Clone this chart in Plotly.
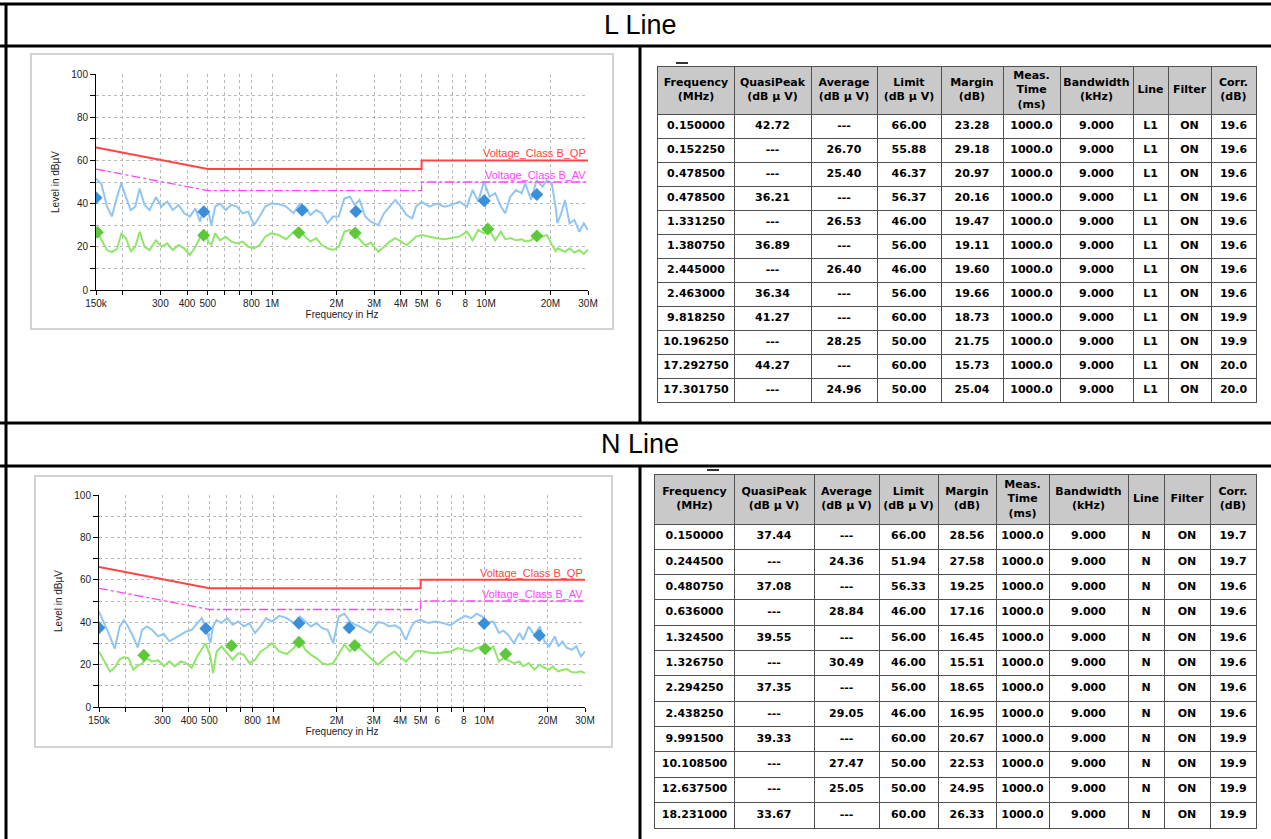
import math
import plotly.graph_objects as go

W, H = 1271, 839

# ---------------- scan data (frequency in MHz, level in dBuV) ----------------
SCAN_F = [0.150, 0.159, 0.169, 0.178, 0.188, 0.197, 0.207, 0.218, 0.229, 0.240,
          0.253, 0.267, 0.286, 0.304, 0.323, 0.343, 0.365, 0.388, 0.412, 0.438,
          0.460, 0.479, 0.505, 0.520, 0.541, 0.570, 0.606, 0.644, 0.685, 0.728,
          0.773, 0.822, 0.874, 0.928, 0.987, 1.070, 1.161, 1.259, 1.338, 1.422,
          1.511, 1.606, 1.707, 1.814, 1.927, 2.048, 2.177, 2.313, 2.429, 2.562,
          2.722, 2.893, 3.138, 3.335, 3.544, 3.767, 4.003, 4.254, 4.521, 4.708,
          5.004, 5.428, 5.890, 6.386, 6.924, 7.510, 8.146, 8.657, 9.201, 9.779,
          10.39, 11.04, 11.74, 12.32, 12.99, 13.81, 14.67, 15.28, 16.24, 17.26,
          18.35, 19.27, 20.31, 21.15, 21.58, 22.48, 23.41, 24.58, 25.91, 27.31,
          28.67, 30.0]

L_QP_SCAN = [51.7, 49, 38.6, 34, 43, 49.4, 43, 37, 38.6, 47,
             39.4, 37, 43, 38.6, 41, 37, 39.4, 35.5, 34, 37.8,
             31.6, 38.6, 35.5, 30, 38.6, 40, 37, 39.4, 38.6, 35.5,
             36.3, 30, 34, 38.6, 40, 39.8, 38.6, 35.5, 39.8, 38.6,
             34.7, 37, 35.5, 30.9, 34, 34, 42.4, 43.2, 39.4, 41.7,
             34, 31.6, 30, 35.5, 38.6, 41.7, 38.6, 34.7, 33.2, 38.6,
             40.9, 38.6, 40, 38.6, 39.4, 40.9, 38.6, 46.3, 40.9, 50.2,
             43.2, 44.8, 38.6, 35.5, 43.2, 46.3, 44.8, 49.4, 41.7, 50.9,
             47.8, 50.9, 49.4, 38.6, 30.9, 35.5, 41.7, 30.9, 32.4, 27,
             30.9, 27.8]

L_AV_SCAN = [27.8, 23, 18.5, 17.5, 19, 26, 24, 18, 20, 27,
             20, 18.5, 23, 20, 21.6, 18.5, 20.8, 19.3, 16.2, 20,
             24.7, 27.8, 22, 21, 26.2, 23, 24.7, 22.4, 21.6, 22.4,
             20, 19.3, 20.8, 24.7, 26.2, 25.5, 23.5, 27, 28.5, 24.7,
             22.4, 24, 20.8, 19.3, 18.5, 20, 27, 27.8, 26.2, 23.5,
             20.5, 22, 17.7, 20, 22.4, 24, 22.4, 20.8, 23, 24.7,
             25.5, 24.7, 24, 23.5, 24, 24.7, 27, 23, 27.8, 26.2,
             27.8, 23, 27, 23.5, 24, 23, 23.5, 22.5, 23, 25.5,
             24.7, 25.5, 21, 18, 19.3, 18.5, 17.7, 19.3, 17.3, 18.5,
             16.7, 18.8]

N_QP_SCAN = [45, 39.6, 33.3, 27.5, 38, 41, 37.5, 33, 28, 36.4,
             38, 36.4, 33.3, 34.5, 31, 32.5, 34, 35.6, 36.4, 39.6,
             41.9, 38, 30.1, 38, 41, 39.6, 41.9, 38.8, 40.3, 38,
             39.6, 34.9, 38, 41.9, 40.3, 43, 41.9, 39.6, 42.7, 40.3,
             38, 39.6, 37.2, 36.4, 30.1, 42.7, 44, 40.3, 39, 38,
             36.4, 35, 40, 39.6, 38, 38.5, 37, 31.7, 38, 40.3,
             41.1, 39.6, 40.3, 39.6, 38.5, 41.1, 43, 41.9, 44, 42.7,
             40, 40.3, 35, 36, 34, 30.1, 34.9, 31.7, 38, 34,
             38, 31, 28.6, 32, 33.3, 28.6, 30.9, 28, 27, 28.6,
             23.9, 26.2]

N_AV_SCAN = [26.2, 21.5, 16.8, 18.5, 22.5, 23.5, 23, 17.6, 19.5, 20.5,
             23, 21.5, 22, 19.2, 21.5, 19.2, 21.5, 20.7, 18.4, 23.9,
             27.5, 30.1, 23.9, 16, 26.2, 28.6, 25.4, 22.3, 25.4, 24.6,
             20.7, 22.3, 26.2, 27.8, 30.1, 26.2, 25, 28, 31.7, 27,
             24.6, 23.1, 20.7, 20, 20.7, 25, 29.5, 26.2, 28.6, 28,
             25.4, 23.1, 20, 22.3, 24.6, 26.2, 23.5, 21.5, 23.9, 26.2,
             26.5, 25.7, 25.4, 25.7, 26.2, 27.8, 27, 26.2, 27.8, 28.6,
             26.2, 28.6, 21.5, 23.1, 22, 20.7, 21.5, 19.2, 20.7, 17.6,
             20, 18.5, 17.6, 19.2, 18, 16.8, 17.5, 17.9, 16.5, 16.3,
             16.8, 16]

# limit lines (class B)
LIM_F = [0.15, 0.5, 5, 5, 30]
QP_LIM = [66, 56, 56, 60, 60]
AV_LIM = [56, 46, 46, 50, 50]

# ---------------- final result tables ----------------
L_FREQ = ["0.150000", "0.152250", "0.478500", "0.478500", "1.331250", "1.380750",
          "2.445000", "2.463000", "9.818250", "10.196250", "17.292750", "17.301750"]
L_QP = ["42.72", "---", "---", "36.21", "---", "36.89", "---", "36.34", "41.27", "---", "44.27", "---"]
L_AVG = ["---", "26.70", "25.40", "---", "26.53", "---", "26.40", "---", "---", "28.25", "---", "24.96"]
L_LIMIT = ["66.00", "55.88", "46.37", "56.37", "46.00", "56.00", "46.00", "56.00", "60.00", "50.00", "60.00", "50.00"]
L_MARGIN = ["23.28", "29.18", "20.97", "20.16", "19.47", "19.11", "19.60", "19.66", "18.73", "21.75", "15.73", "25.04"]
L_CORR = ["19.6", "19.6", "19.6", "19.6", "19.6", "19.6", "19.6", "19.6", "19.9", "19.9", "20.0", "20.0"]

N_FREQ = ["0.150000", "0.244500", "0.480750", "0.636000", "1.324500", "1.326750",
          "2.294250", "2.438250", "9.991500", "10.108500", "12.637500", "18.231000"]
N_QP = ["37.44", "---", "37.08", "---", "39.55", "---", "37.35", "---", "39.33", "---", "---", "33.67"]
N_AVG = ["---", "24.36", "---", "28.84", "---", "30.49", "---", "29.05", "---", "27.47", "25.05", "---"]
N_LIMIT = ["66.00", "51.94", "56.33", "46.00", "56.00", "46.00", "56.00", "46.00", "60.00", "50.00", "50.00", "60.00"]
N_MARGIN = ["28.56", "27.58", "19.25", "17.16", "16.45", "15.51", "18.65", "16.95", "20.67", "22.53", "24.95", "26.33"]
N_CORR = ["19.7", "19.7", "19.6", "19.6", "19.6", "19.6", "19.6", "19.6", "19.9", "19.9", "19.9", "19.9"]

MEAS_TIME = "1000.0"
BANDWIDTH = "9.000"
FILTER = "ON"

HEADERS = ["Frequency<br>(MHz)", "QuasiPeak<br>(dB \u00b5 V)", "Average<br>(dB \u00b5 V)",
           "Limit<br>(dB \u00b5 V)", "Margin<br>(dB)", "Meas.<br>Time<br>(ms)",
           "Bandwidth<br>(kHz)", "Line", "Filter", "Corr.<br>(dB)"]

X_TICKS = [0.15, 0.2, 0.3, 0.4, 0.5, 0.6, 0.7, 0.8, 1, 2, 3, 4, 5, 6, 7, 8, 10, 20, 30]
X_TICKTEXT = ["150k", "", "300", "400", "500", "", "", "800", "1M", "2M", "3M", "4M",
              "5M", "6", "", "8", "10M", "20M", "30M"]
Y_TICKS = [0, 10, 20, 30, 40, 50, 60, 70, 80, 90, 100]
Y_TICKTEXT = ["0", "", "20", "", "40", "", "60", "", "80", "", "100"]


def px(x):
    return x / W


def py(y):
    return 1 - y / H


BLUE_SCAN = "#92c6f2"
GREEN_SCAN = "#8fe66a"
BLUE_MK = "#3a8fdb"
GREEN_MK = "#5cc83a"
RED = "#ff4444"
MAGENTA = "#ff44ff"
CHART_FONT = "Liberation Sans, Arial, sans-serif"
TABLE_FONT = "DejaVu Sans, Verdana, sans-serif"
GRID_TABLE = "#505050"

fig = go.Figure()
shapes = []


def picked(freqs, vals):
    xs = [float(f) for f, v in zip(freqs, vals) if v != "---"]
    ys = [float(v) for v in vals if v != "---"]
    return xs, ys


def add_chart(xa, ya, qp_scan, av_scan, freqs, qp, avg):
    fig.add_trace(go.Scatter(x=SCAN_F, y=qp_scan, mode="lines", xaxis=xa, yaxis=ya,
                             line=dict(color=BLUE_SCAN, width=2), hoverinfo="skip"))
    fig.add_trace(go.Scatter(x=SCAN_F, y=av_scan, mode="lines", xaxis=xa, yaxis=ya,
                             line=dict(color=GREEN_SCAN, width=2), hoverinfo="skip"))
    fig.add_trace(go.Scatter(x=LIM_F, y=QP_LIM, mode="lines", xaxis=xa, yaxis=ya,
                             line=dict(color=RED, width=2)))
    fig.add_trace(go.Scatter(x=LIM_F, y=AV_LIM, mode="lines", xaxis=xa, yaxis=ya,
                             line=dict(color=MAGENTA, width=1.3, dash="dashdot")))
    qx, qy = picked(freqs, qp)
    ax_, ay_ = picked(freqs, avg)
    fig.add_trace(go.Scatter(x=qx, y=qy, mode="markers", xaxis=xa, yaxis=ya,
                             marker=dict(symbol="diamond", size=10, color=BLUE_MK)))
    fig.add_trace(go.Scatter(x=ax_, y=ay_, mode="markers", xaxis=xa, yaxis=ya,
                             marker=dict(symbol="diamond", size=10, color=GREEN_MK)))


add_chart("x", "y", L_QP_SCAN, L_AV_SCAN, L_FREQ, L_QP, L_AVG)
add_chart("x2", "y2", N_QP_SCAN, N_AV_SCAN, N_FREQ, N_QP, N_AVG)


def add_table(xa, ya, cols, widths, head_h, row_h):
    bounds = [0]
    for w in widths:
        bounds.append(bounds[-1] + w)
    centers = [(bounds[i] + bounds[i + 1]) / 2 for i in range(len(widths))]
    n = len(cols[0])
    row_bounds = [0, head_h] + [head_h + row_h * (i + 1) for i in range(n)]
    tf = dict(family=TABLE_FONT, size=11, color="black")
    fig.add_trace(go.Scatter(x=centers, y=[head_h / 2] * len(centers),
                             text=["<b>%s</b>" % h for h in HEADERS], mode="text",
                             textposition="middle center", textfont=tf,
                             xaxis=xa, yaxis=ya, hoverinfo="skip"))
    xs, ys, ts = [], [], []
    for j, col in enumerate(cols):
        for i, v in enumerate(col):
            xs.append(centers[j])
            ys.append(head_h + row_h * (i + 0.5))
            ts.append("<b>%s</b>" % v)
    fig.add_trace(go.Scatter(x=xs, y=ys, text=ts, mode="text", textposition="middle center",
                             textfont=tf, xaxis=xa, yaxis=ya, hoverinfo="skip"))
    shapes.append(dict(type="rect", xref=xa, yref=ya, x0=0, x1=bounds[-1], y0=0, y1=head_h,
                       fillcolor="#c9c9c9", line=dict(width=0), layer="below"))
    axx = dict(range=[0, bounds[-1]], tickmode="array", tickvals=bounds, showgrid=True,
               gridcolor=GRID_TABLE, gridwidth=1, showticklabels=False, ticks="",
               zeroline=False, showline=True, mirror=True, linecolor=GRID_TABLE, linewidth=1,
               automargin=False)
    axy = dict(range=[row_bounds[-1], 0], tickmode="array", tickvals=row_bounds, showgrid=True,
               gridcolor=GRID_TABLE, gridwidth=1, showticklabels=False, ticks="",
               zeroline=False, showline=True, mirror=True, linecolor=GRID_TABLE, linewidth=1,
               automargin=False)
    return axx, axy


L_COLS = [L_FREQ, L_QP, L_AVG, L_LIMIT, L_MARGIN, [MEAS_TIME] * len(L_FREQ),
          [BANDWIDTH] * len(L_FREQ), ["L1"] * len(L_FREQ), [FILTER] * len(L_FREQ), L_CORR]
N_COLS = [N_FREQ, N_QP, N_AVG, N_LIMIT, N_MARGIN, [MEAS_TIME] * len(N_FREQ),
          [BANDWIDTH] * len(N_FREQ), ["N"] * len(N_FREQ), [FILTER] * len(N_FREQ), N_CORR]

L_WIDTHS = [76, 77, 66, 64, 62, 57, 73, 35, 43, 45]
N_WIDTHS = [79, 80, 65, 59, 58, 53, 79, 36, 46, 46]
L_HEAD, L_ROW = 47, 24
N_HEAD, N_ROW = 49, 25.3

ax3, ay3 = add_table("x3", "y3", L_COLS, L_WIDTHS, L_HEAD, L_ROW)
ax4, ay4 = add_table("x4", "y4", N_COLS, N_WIDTHS, N_HEAD, N_ROW)

xaxis_common = dict(type="log", range=[math.log10(0.15), math.log10(30)],
                    tickmode="array", tickvals=X_TICKS, ticktext=X_TICKTEXT,
                    showgrid=True, gridcolor="#b8b8b8", griddash="dot", gridwidth=1,
                    showline=True, linecolor="black", linewidth=1, ticks="outside",
                    ticklen=4, tickcolor="black", zeroline=False, automargin=False,
                    tickfont=dict(family=CHART_FONT, size=10, color="#222"),
                    title=dict(text="Frequency in Hz", standoff=2,
                               font=dict(family=CHART_FONT, size=10, color="#222")))
yaxis_common = dict(range=[0, 100], tickmode="array", tickvals=Y_TICKS, ticktext=Y_TICKTEXT,
                    showgrid=True, gridcolor="#b8b8b8", griddash="dot", gridwidth=1,
                    showline=True, linecolor="black", linewidth=1, ticks="outside",
                    ticklen=5, tickcolor="black", zeroline=False, automargin=False,
                    tickfont=dict(family=CHART_FONT, size=10, color="#222"),
                    title=dict(text="Level in dB\u00b5V", standoff=9,
                               font=dict(family=CHART_FONT, size=10, color="#222")))

BK = dict(color="black", width=3)
for (x0, y0, x1, y1) in [(0, 4, W, 4), (0, 46, W, 46), (0, 423, W, 423), (0, 466, W, 466),
                         (6, 3, 6, H), (640, 46, 640, 423), (640, 466, 640, H)]:
    shapes.append(dict(type="line", xref="paper", yref="paper", x0=px(x0), x1=px(x1),
                       y0=py(y0), y1=py(y1), line=BK))
for (x0, y0, x1, y1) in [(31, 54, 613, 329), (35, 476, 612, 747)]:
    shapes.append(dict(type="rect", xref="paper", yref="paper", x0=px(x0), x1=px(x1),
                       y0=py(y0), y1=py(y1), line=dict(color="#d2d2d2", width=2),
                       layer="below"))
for (x0, x1, y) in [(676, 688, 63), (707, 719, 470)]:
    shapes.append(dict(type="line", xref="paper", yref="paper", x0=px(x0), x1=px(x1),
                       y0=py(y), y1=py(y), line=dict(color="#333", width=2)))

annotations = [
    dict(text="L Line", xref="paper", yref="paper", x=px(640), y=py(25), showarrow=False,
         xanchor="center", yanchor="middle",
         font=dict(family="Liberation Sans, Arial", size=27, color="black")),
    dict(text="N Line", xref="paper", yref="paper", x=px(640), y=py(444), showarrow=False,
         xanchor="center", yanchor="middle",
         font=dict(family="Liberation Sans, Arial", size=27, color="black")),
]
for xa, ya in [("x", "y"), ("x2", "y2")]:
    annotations.append(dict(text="Voltage_Class B_QP", xref=xa, yref=ya, x=math.log10(30), y=60,
                            xanchor="right", yanchor="bottom", showarrow=False, yshift=-1,
                            font=dict(family=CHART_FONT, size=11, color=RED)))
    annotations.append(dict(text="Voltage_Class B_AV", xref=xa, yref=ya, x=math.log10(30), y=50,
                            xanchor="right", yanchor="bottom", showarrow=False, yshift=-1,
                            font=dict(family=CHART_FONT, size=11, color=MAGENTA)))

fig.update_layout(
    width=W, height=H, margin=dict(l=0, r=0, t=0, b=0, pad=0, autoexpand=False), autosize=False,
    paper_bgcolor="white", plot_bgcolor="white", showlegend=False,
    xaxis=dict(xaxis_common, domain=[px(96), px(588)], anchor="y"),
    yaxis=dict(yaxis_common, domain=[py(290), py(74)], anchor="x"),
    xaxis2=dict(xaxis_common, domain=[px(99), px(585)], anchor="y2"),
    yaxis2=dict(yaxis_common, domain=[py(707), py(495)], anchor="x2"),
    xaxis3=dict(ax3, domain=[px(658), px(1256)], anchor="y3"),
    yaxis3=dict(ay3, domain=[py(67 + L_HEAD + 12 * L_ROW), py(67)], anchor="x3"),
    xaxis4=dict(ax4, domain=[px(655), px(1256)], anchor="y4"),
    yaxis4=dict(ay4, domain=[py(475 + N_HEAD + 12 * N_ROW), py(475)], anchor="x4"),
    shapes=shapes, annotations=annotations,
)

fig.write_html("out.html", config={"displayModeBar": False},
               post_script="document.body.style.margin='0px';")
